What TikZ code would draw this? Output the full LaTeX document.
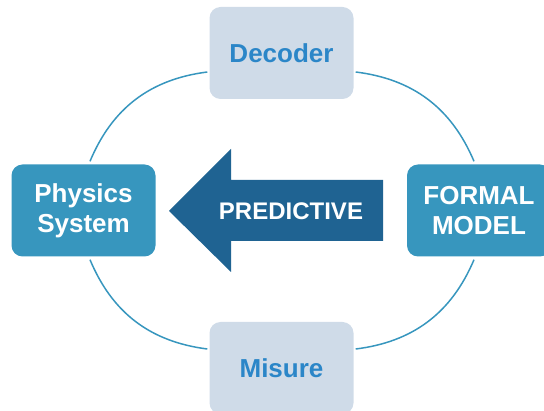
\documentclass[tikz,border=0pt]{standalone}
\usepackage{fontspec}
\setmainfont{Liberation Sans}
\usetikzlibrary{calc}
\definecolor{midblue}{RGB}{55,150,190}
\definecolor{arrowblue}{RGB}{31,99,146}
\definecolor{lightbox}{RGB}{207,219,232}
\definecolor{textblue}{RGB}{43,134,200}
\begin{document}
\begin{tikzpicture}[x=1pt,y=-1pt,
  box/.style={rounded corners=11pt, minimum width=144pt, minimum height=92pt,
    inner sep=0pt, align=center, font=\fontsize{26}{30}\selectfont\bfseries},
  darkbox/.style={box, fill=midblue, text=white},
  lightnode/.style={box, fill=lightbox, text=textblue},
  ring/.style={draw=midblue, line width=1.5pt}]
\clip (0,0) rectangle (544,411);
\node[darkbox] (phys) at (83.5,210.5) {Physics\\System};
\node[darkbox] (form) at (479,210.5) {FORMAL\\MODEL};
\node[lightnode] (dec) at (281.5,53) {Decoder};
\node[lightnode] (mis) at (281.5,368) {Misure};
\fill[arrowblue] (169,211) -- (231,149) -- (231,180) -- (383,180) -- (383,241)
  -- (231,241) -- (231,272) -- cycle;
\node[text=white, inner sep=0pt, font=\fontsize{24}{28}\selectfont\bfseries] (pred) at (291,211.3) {PREDICTIVE};
\draw[ring] ($(dec.west)+(-2,19)$) to[bend right=30] ($(phys.north)+(6.5,-3)$);
\draw[ring] ($(dec.east)+(2,19)$) to[bend left=30] ($(form.north)+(-5,-3)$);
\draw[ring] ($(phys.south)+(6.5,3)$) to[bend right=30] ($(mis.west)+(-2,-19)$);
\draw[ring] ($(form.south)+(-5,3)$) to[bend left=30] ($(mis.east)+(2,-19)$);
\end{tikzpicture}
\end{document}
